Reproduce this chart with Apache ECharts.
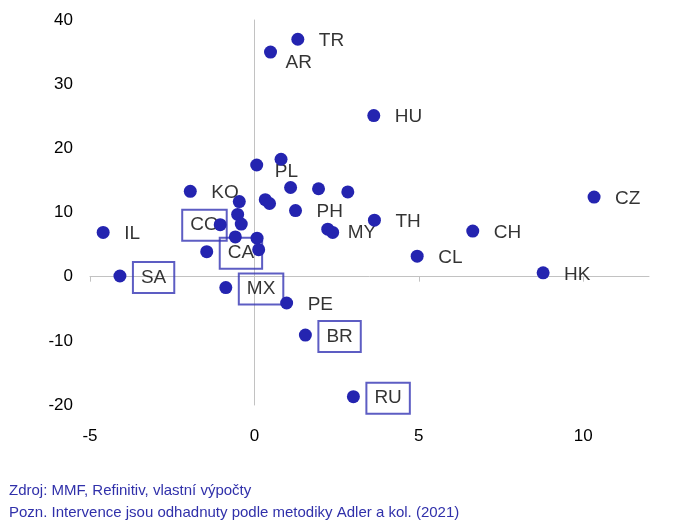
<!DOCTYPE html>
<html>
<head>
<meta charset="utf-8">
<script src="https://cdn.jsdelivr.net/npm/echarts@6/dist/echarts.min.js"></script>
<style>
html,body{margin:0;padding:0;background:#fff;}
#chart{width:677px;height:524px;}
</style>
</head>
<body>
<div id="chart"></div>
<script>
// ---- data ----
const codes = ['TR','AR','HU','CZ','TH','CH','CL','HK','IL','SA','PE','BR','RU','MX','KO','PL','',
               '','','','','','','PH','','','CO','MY','','','','','CA'];
const xVals = [1.32, 0.49, 3.63, 10.33, 3.65, 6.64, 4.95, 8.78, -4.60, -4.09, 0.98, 1.55, 3.01, -0.87, -1.95, 0.07, 0.81,
               1.10, 1.95, 2.84, -0.46, 0.33, 0.46, 1.25, -0.51, -0.40, -1.04, 2.23, 2.38, -0.58, 0.08, 0.13, -1.45];
const yVals = [37.0, 35.0, 25.1, 12.4, 8.8, 7.1, 3.2, 0.6, 6.9, 0.1, -4.1, -9.1, -18.7, -1.7, 13.3, 17.4, 18.3,
               13.9, 13.7, 13.2, 11.7, 12.0, 11.4, 10.3, 9.7, 8.2, 8.1, 7.4, 6.9, 6.2, 6.0, 4.2, 3.9];
const xTicks = [-5, 0, 5, 10];
const yTicks = [-20, -10, 0, 10, 20, 30, 40];
const boxedCodes = ['SA','MX','BR','RU','CO','CA'];
const notes = ['Zdroj: MMF, Refinitiv, vlastní výpočty',
               'Pozn. Intervence jsou odhadnuty podle metodiky Adler a kol. (2021)'];

// ---- styles ----
const FONT = '"Liberation Sans", Arial, sans-serif';
const DOT = '#2424B0';
const BOX = '#3434B4';
const AXIS_GRAY = '#c2c2c2';
const R = 6.5; // symbol radius
const DY = 1.5; // small vertical nudge of label text
// label anchors relative to symbol bounding box (top-left = centre - R)
const labelTweaks = {
  AR: {position: [R + 15, R + 11], align: 'left'},
  PL: {position: [R + 18, R + 7], align: 'left'},
  MY: {position: [R + 20, R + 4], align: 'left'},
  CO: {position: [R + 6.5, R + DY - 1], align: 'right'}
};

function labelFor(code) {
  if (!code) return {show: false};
  const boxed = boxedCodes.indexOf(code) >= 0;
  const base = {
    show: true, formatter: code,
    position: [R + (boxed ? 13 : 21), R + DY], align: 'left', verticalAlign: 'middle',
    fontSize: 19, color: '#000', fontFamily: FONT
  };
  if (boxed) {
    Object.assign(base, {padding: [6, 8, 6, 8], borderColor: BOX, borderWidth: 2});
  }
  return Object.assign(base, labelTweaks[code] || {});
}

const labelPoints = codes.map((c, i) => ({value: [xVals[i], yVals[i]], label: labelFor(c)}));
const dotPoints = codes.map((c, i) => [xVals[i], yVals[i]]);

const chart = echarts.init(document.getElementById('chart'), null, {renderer: 'canvas'});
chart.setOption({
  animation: false,
  backgroundColor: '#fff',
  grid: {left: 90, right: 28, top: 20, bottom: 119},
  xAxis: [
    {
      type: 'value', min: -5, max: 12, interval: 5, position: 'bottom',
      axisLine: {show: false, onZero: false}, axisTick: {show: false}, splitLine: {show: false},
      axisLabel: {customValues: xTicks, fontSize: 17, color: '#000', margin: 23, fontFamily: FONT}
    },
    {
      type: 'value', min: -5, max: 12, interval: 5, position: 'top',
      axisLine: {show: true, onZero: true, lineStyle: {color: AXIS_GRAY, width: 1}},
      axisTick: {show: true, inside: true, length: 5, customValues: xTicks, lineStyle: {color: AXIS_GRAY}},
      axisLabel: {show: false}, splitLine: {show: false}
    }
  ],
  yAxis: [
    {
      type: 'value', min: -20, max: 40, interval: 10, position: 'left',
      axisLine: {show: false, onZero: false}, axisTick: {show: false}, splitLine: {show: false},
      axisLabel: {customValues: yTicks, fontSize: 17, color: '#000', margin: 17, fontFamily: FONT}
    },
    {
      type: 'value', min: -20, max: 40, interval: 10, position: 'right',
      axisLine: {show: true, onZero: true, lineStyle: {color: AXIS_GRAY, width: 1}},
      axisTick: {show: false}, axisLabel: {show: false}, splitLine: {show: false}
    }
  ],
  series: [
    {
      name: 'labels', type: 'scatter', xAxisIndex: 0, yAxisIndex: 0, z: 2,
      symbol: 'circle', symbolSize: 2 * R, silent: true,
      itemStyle: {color: 'rgba(0,0,0,0)'},
      data: labelPoints
    },
    {
      name: 'dots', type: 'scatter', xAxisIndex: 0, yAxisIndex: 0, z: 3,
      symbol: 'circle', symbolSize: 2 * R,
      itemStyle: {color: DOT, opacity: 1},
      data: dotPoints
    }
  ],
  graphic: notes.map((t, i) => ({
    type: 'text', left: 9, top: 483 + i * 22,
    style: {text: t, fontSize: 15, fill: '#3030AA', fontFamily: FONT}
  }))
});
</script>
</body>
</html>
